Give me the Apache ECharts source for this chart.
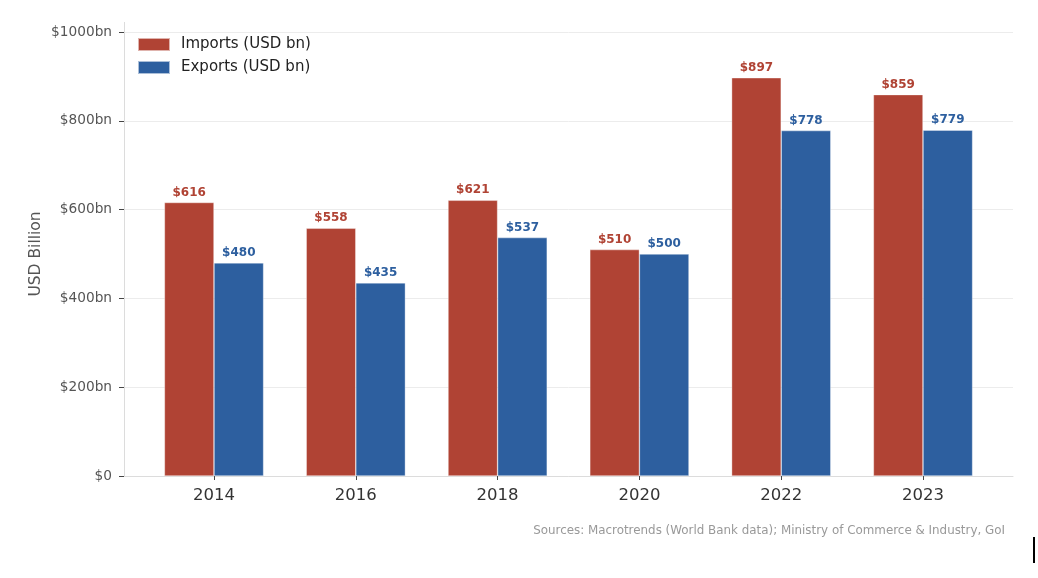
<!DOCTYPE html>
<html lang="en">
<head>
    <meta charset="UTF-8">
    <title>Imports vs Exports</title>
    <script src="https://cdn.jsdelivr.net/npm/echarts@6/dist/echarts.min.js"></script>
    <style>
        html, body { margin: 0; padding: 0; background: #fff; }
        #main { width: 1038px; height: 578px; }
    </style>
</head>
<body>
<div id="main"></div>
<script>
    // data
    var years = ['2014', '2016', '2018', '2020', '2022', '2023'];
    var imports = [616, 558, 621, 510, 897, 859];
    var exports = [480, 435, 537, 500, 778, 779];

    var RED = '#b04334';
    var BLUE = '#2d5f9f';
    var FONT = '"DejaVu Sans", sans-serif';

    var myChart = echarts.init(document.getElementById('main'));

    function yLabel(v) {
        if (v === 0) return '$0';
        return '$' + v + 'bn';
    }

    function valLabel(p) {
        return '$' + p.value;
    }

    var option = {
        backgroundColor: '#fff',
        animation: false,
        textStyle: {fontFamily: FONT},
        legend: {
            orient: 'vertical',
            left: 132,
            top: 32,
            itemWidth: 32,
            itemHeight: 13,
            itemGap: 8,
            icon: 'rect',
            textStyle: {fontFamily: FONT, fontSize: 15, color: '#222', padding: [0, 0, 0, 6]},
            data: ['Imports (USD bn)', 'Exports (USD bn)']
        },
        grid: [
            // outer frame: spines and gridlines
            {left: 124, top: 32, width: 889, height: 444},
            // bars, inset like matplotlib's margins
            {left: 143.1, top: 32, width: 850.8, height: 444}
        ],
        xAxis: [{
            gridIndex: 0,
            type: 'value',
            min: 0,
            max: 1,
            axisLine: {show: true, lineStyle: {color: '#dcdcdc', width: 1}},
            axisTick: {show: false},
            axisLabel: {show: false},
            splitLine: {show: false}
        }, {
            gridIndex: 1,
            type: 'category',
            data: years,
            axisLine: {show: false},
            axisTick: {show: true, alignWithLabel: true, length: 4, lineStyle: {color: '#444'}},
            axisLabel: {fontFamily: FONT, fontSize: 16.5, color: '#333', margin: 11},
            splitLine: {show: false}
        }],
        yAxis: [{
            gridIndex: 0,
            type: 'value',
            min: 0,
            max: 1000,
            interval: 200,
            name: 'USD Billion',
            nameLocation: 'middle',
            nameGap: 80,
            nameMoveOverlap: false,
            nameTextStyle: {fontFamily: FONT, fontSize: 15.5, color: '#555'},
            axisLine: {show: true, lineStyle: {color: '#dcdcdc', width: 1}},
            axisTick: {show: true, length: 5, lineStyle: {color: '#444'}},
            axisLabel: {fontFamily: FONT, fontSize: 13.7, color: '#555', margin: 12, formatter: yLabel},
            splitLine: {show: true, lineStyle: {color: '#ececec', width: 1}}
        }, {
            gridIndex: 1,
            type: 'value',
            min: 0,
            max: 1000,
            interval: 200,
            axisLine: {show: false},
            axisTick: {show: false},
            axisLabel: {show: false},
            splitLine: {show: false}
        }],
        series: [{
            name: 'Imports (USD bn)',
            type: 'bar',
            xAxisIndex: 1,
            yAxisIndex: 1,
            barWidth: 49.6,
            barGap: '0%',
            itemStyle: {color: RED, borderColor: 'rgba(255,255,255,0.6)', borderWidth: 0.6},
            label: {
                show: true, position: 'top', distance: 4, color: RED,
                fontFamily: FONT, fontWeight: 'bold', fontSize: 12, formatter: valLabel
            },
            data: imports
        }, {
            name: 'Exports (USD bn)',
            type: 'bar',
            xAxisIndex: 1,
            yAxisIndex: 1,
            barWidth: 49.6,
            barGap: '0%',
            itemStyle: {color: BLUE, borderColor: 'rgba(255,255,255,0.6)', borderWidth: 0.6},
            label: {
                show: true, position: 'top', distance: 4, color: BLUE,
                fontFamily: FONT, fontWeight: 'bold', fontSize: 12, formatter: valLabel
            },
            data: exports
        }],
        graphic: [{
            // left spine runs a little above the $1000bn tick
            type: 'line',
            shape: {x1: 124.5, y1: 22, x2: 124.5, y2: 32},
            style: {stroke: '#dcdcdc', lineWidth: 1}
        }, {
            type: 'text',
            right: 33,
            top: 525,
            style: {
                text: 'Sources: Macrotrends (World Bank data); Ministry of Commerce & Industry, GoI',
                font: '11.9px "DejaVu Sans", sans-serif',
                fill: '#999'
            }
        }, {
            type: 'rect',
            left: 1033,
            top: 537,
            shape: {width: 2, height: 26},
            style: {fill: '#000'}
        }]
    };

    myChart.setOption(option);
</script>
</body>
</html>
